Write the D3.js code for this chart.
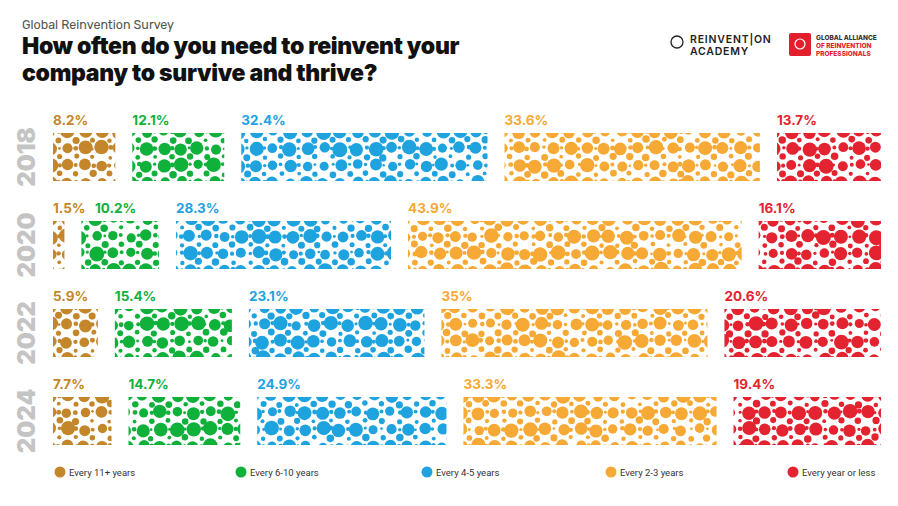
<!DOCTYPE html>
<html><head><meta charset="utf-8">
<script src="https://cdn.jsdelivr.net/npm/d3@7"></script>
<style>body{margin:0;background:#fff;font-family:Rubik,"Open Sans",sans-serif}</style>
</head><body>
<script>
var years = ["2018", "2020", "2022", "2024"];
var categories = ["Every 11+ years", "Every 6-10 years", "Every 4-5 years", "Every 2-3 years", "Every year or less"];
var colors = ["#c4862a", "#10b13b", "#1fa3df", "#f6a934", "#e32330"];
var v2018 = [8.2, 12.1, 32.4, 33.6, 13.7];
var v2020 = [1.5, 10.2, 28.3, 43.9, 16.1];
var v2022 = [5.9, 15.4, 23.1, 35, 20.6];
var v2024 = [7.7, 14.7, 24.9, 33.3, 19.4];
var labels2022 = ["5.9%", "15.4%", "23.1%", "35%", "20.6%"];
var rows = [v2018, v2020, v2022, v2024];

var W = 898, H = 506, left = 53, right = 881, gap = 17;
var svg = d3.select("body").append("svg").attr("width", W).attr("height", H);
var defs = svg.append("defs");

svg.append("text").attr("x", 22).attr("y", 29).attr("font-size", 12.5).attr("fill", "#555")
  .attr("font-family", "Rubik,Inter,sans-serif").text("Global Reinvention Survey");
var t = svg.append("text").attr("font-size", 23).attr("font-weight", 900).attr("fill", "#111")
  .attr("font-family", "Inter,'Open Sans',sans-serif").attr("letter-spacing", -0.3);
t.append("tspan").attr("x", 22).attr("y", 54).text("How often do you need to reinvent your");
t.append("tspan").attr("x", 22).attr("y", 81).text("company to survive and thrive?");

// logos
var lg = svg.append("g").attr("font-family", "Inter,sans-serif");
lg.append("circle").attr("cx", 677).attr("cy", 42).attr("r", 6).attr("fill", "none").attr("stroke", "#222").attr("stroke-width", 1.3);
lg.append("text").attr("x", 690).attr("y", 43).attr("font-size", 10.5).attr("font-weight", 600).attr("letter-spacing", 0.8).attr("fill", "#222").text("REINVENT|ON");
lg.append("text").attr("x", 690).attr("y", 55).attr("font-size", 10.5).attr("font-weight", 600).attr("letter-spacing", 0.8).attr("fill", "#222").text("ACADEMY");
lg.append("rect").attr("x", 789).attr("y", 33).attr("width", 22).attr("height", 23).attr("rx", 2).attr("fill", "#e31e2d");
lg.append("circle").attr("cx", 800).attr("cy", 44).attr("r", 5).attr("fill", "none").attr("stroke", "#fff").attr("stroke-width", 1.2);
lg.append("text").attr("x", 816).attr("y", 40).attr("font-size", 6.5).attr("font-weight", 800).attr("fill", "#333").text("GLOBAL ALLIANCE");
lg.append("text").attr("x", 816).attr("y", 48).attr("font-size", 6.5).attr("font-weight", 800).attr("fill", "#e31e2d").text("OF REINVENTION");
lg.append("text").attr("x", 816).attr("y", 56).attr("font-size", 6.5).attr("font-weight", 800).attr("fill", "#e31e2d").text("PROFESSIONALS");

var y = d3.scaleBand().domain(years).range([133, 445]).paddingInner(40 / 88).paddingOuter(0);
var x = d3.scaleLinear().domain([0, 100]).range([0, right - left - gap * 4]);

// deterministic bubble pattern generator (decoration only)
var seed = 7;
function rnd() { seed = (seed * 16807) % 2147483647; return (seed - 1) / 2147483646; }

rows.forEach(function (vals, ri) {
  var yr = years[ri];
  var y0 = y(yr), bh = y.bandwidth();
  svg.append("text").attr("transform", "translate(" + 35 + "," + (y0 + bh / 2) + ") rotate(-90)")
    .attr("text-anchor", "middle").attr("font-size", 24).attr("font-weight", 900)
    .attr("font-family", "Inter,sans-serif").attr("fill", "#c4c4c4").text(yr);
  var cx = left, labelEnd = 0;
  vals.forEach(function (v, ci) {
    var w = x(v);
    var id = "clip" + ri + "_" + ci;
    defs.append("clipPath").attr("id", id).append("rect").attr("x", cx).attr("y", y0).attr("width", w).attr("height", bh);
    var g = svg.append("g").attr("clip-path", "url(#" + id + ")").attr("fill", colors[ci]);
    var circles = [];
    for (var gx = cx - 4; gx < cx + w + 8; gx += 17) {
      for (var gy = y0 - 3; gy < y0 + bh + 8; gy += 17) {
        circles.push({x: gx + rnd() * 3, y: gy + rnd() * 3, r: 4.5 + rnd() * 3});
        circles.push({x: gx + 9 + rnd() * 2, y: gy + 9 + rnd() * 2, r: 1.8 + rnd() * 2});
        circles.push({x: gx + 9 + rnd() * 2, y: gy + rnd() * 2, r: 1.3 + rnd() * 1.2});
      }
    }
    g.selectAll("circle").data(circles).join("circle")
      .attr("cx", function (d) { return d.x; }).attr("cy", function (d) { return d.y; })
      .attr("r", function (d) { return d.r; });
    var lx = Math.max(cx, labelEnd + 30);
    svg.append("text").attr("x", lx).attr("y", y0 - 8).attr("font-size", 13.5).attr("font-weight", 700)
      .attr("font-family", "Inter,sans-serif").attr("fill", colors[ci])
      .text(ri === 2 ? labels2022[ci] : v + "%");
    labelEnd = lx + 12;
    cx += w + gap;
  });
});

// legend
var legX = [60, 241, 427, 611, 793];
categories.forEach(function (c, i) {
  svg.append("circle").attr("cx", legX[i]).attr("cy", 472).attr("r", 5.5).attr("fill", colors[i]);
  svg.append("text").attr("x", legX[i] + 9).attr("y", 475.5).attr("font-size", 9.5).attr("fill", "#333")
    .attr("font-family", "Roboto,sans-serif").text(c);
});
</script>
</body></html>
